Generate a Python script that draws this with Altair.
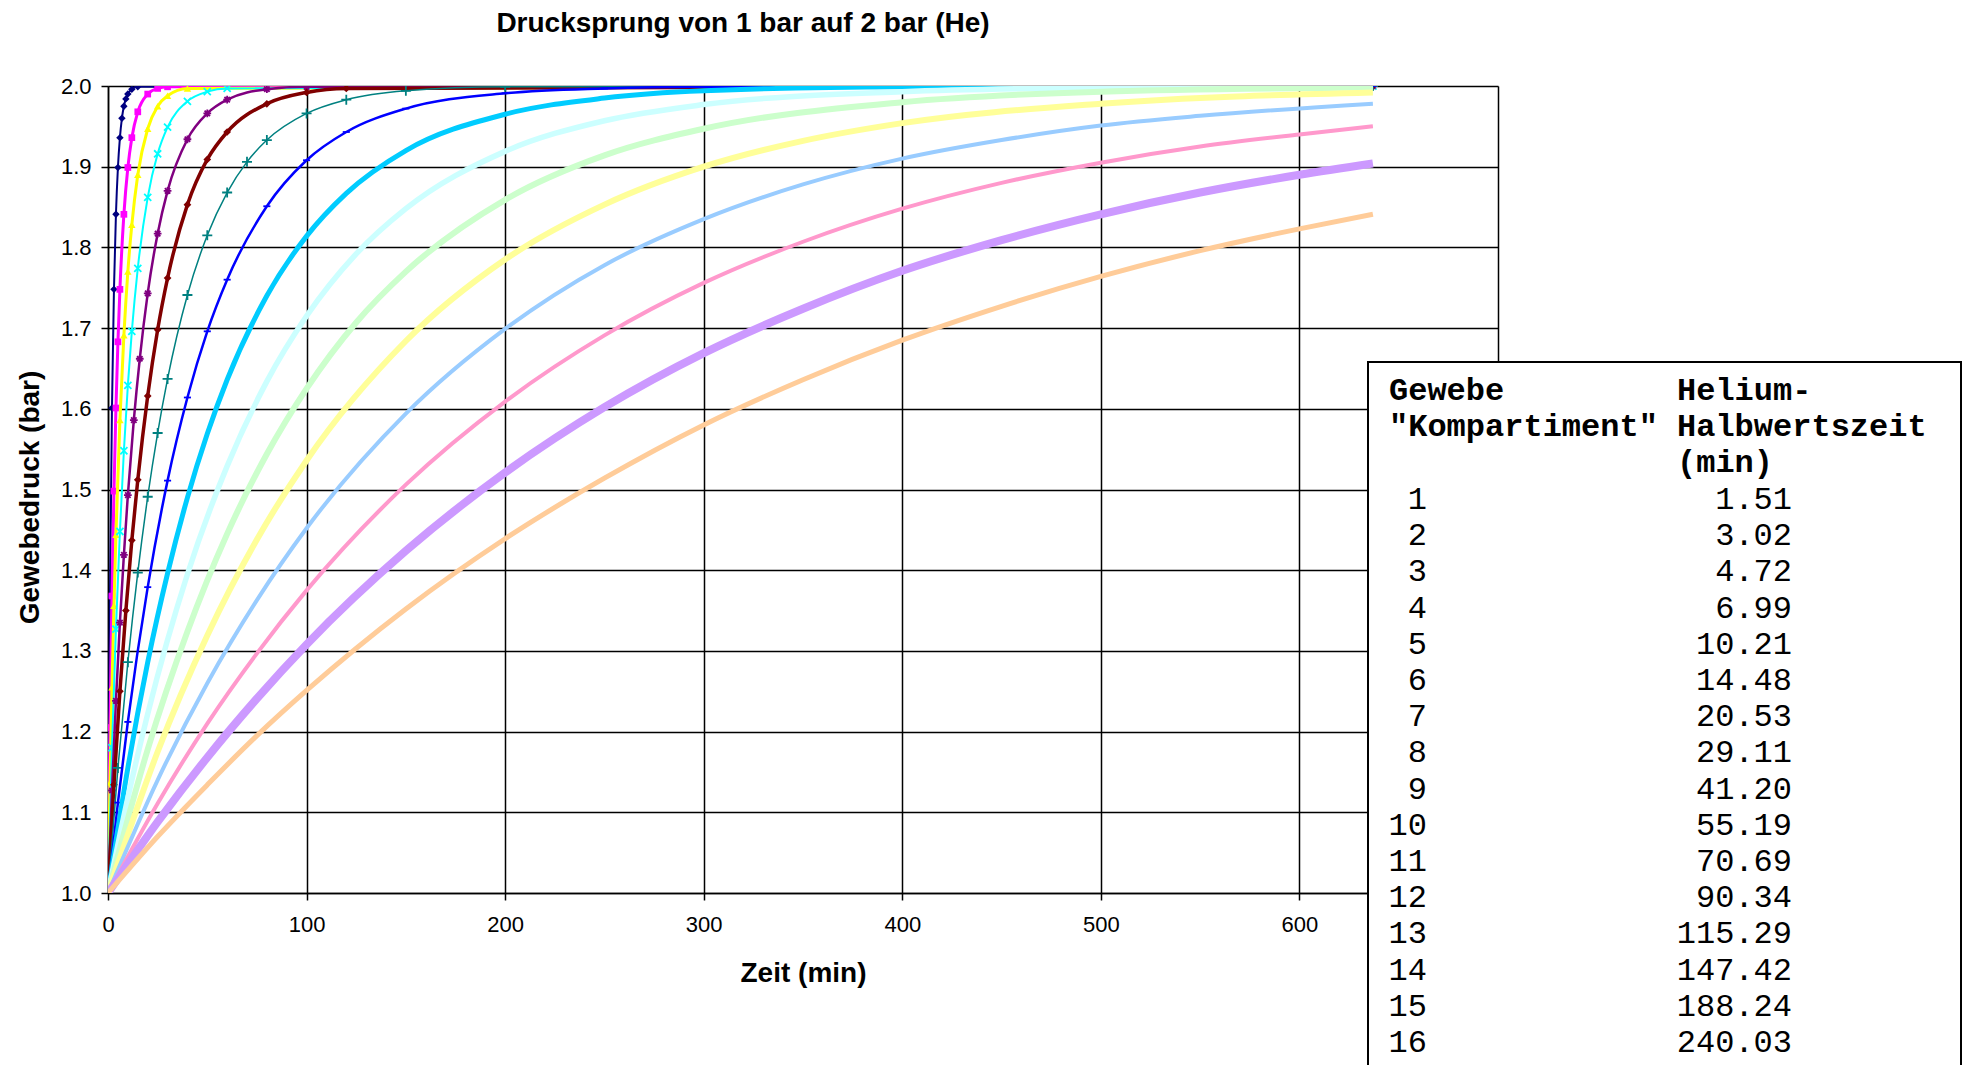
import altair as alt
import pandas as pd

# ---------------- data ----------------
compartments = list(range(1, 17))
half_times = [1.51, 3.02, 4.72, 6.99, 10.21, 14.48, 20.53, 29.11,
              41.20, 55.19, 70.69, 90.34, 115.29, 147.42, 188.24, 240.03]
colors = ["#000080", "#FF00FF", "#FFFF00", "#00FFFF", "#800080", "#800000",
          "#008080", "#0000FF", "#00CCFF", "#CCFFFF", "#CCFFCC", "#FFFF99",
          "#99CCFF", "#FF99CC", "#CC99FF", "#FFCC99"]

# time (min) / tissue pressure (bar)
k01_t = [0, 1, 2, 3, 4, 5, 6, 7, 8, 9, 10, 12, 15, 637]
k01_p = [1.000, 1.368, 1.601, 1.748, 1.841, 1.899, 1.936, 1.960, 1.975, 1.984, 1.990, 1.996, 1.999, 2.000]
k02_t = [0, 1, 2, 3, 4, 5, 6, 8, 10, 12, 15, 20, 25, 30, 637]
k02_p = [1.000, 1.205, 1.368, 1.498, 1.601, 1.683, 1.748, 1.841, 1.899, 1.936, 1.968, 1.990, 1.997, 1.999, 2.000]
k03_t = [0, 1, 2, 3, 4, 6, 8, 10, 12, 15, 20, 25, 30, 40, 637]
k03_p = [1.000, 1.137, 1.255, 1.356, 1.444, 1.586, 1.691, 1.770, 1.828, 1.890, 1.947, 1.975, 1.988, 1.997, 2.000]
k04_t = [0, 2, 4, 6, 8, 10, 12, 15, 20, 25, 30, 40, 50, 60, 637]
k04_p = [1.000, 1.180, 1.327, 1.448, 1.548, 1.629, 1.696, 1.774, 1.862, 1.916, 1.949, 1.981, 1.993, 1.997, 2.000]
k05_t = [0, 2, 4, 6, 8, 10, 13, 16, 20, 25, 30, 40, 50, 60, 80, 100, 637]
k05_p = [1.000, 1.127, 1.238, 1.335, 1.419, 1.493, 1.586, 1.662, 1.743, 1.817, 1.870, 1.934, 1.966, 1.983, 1.996, 1.999, 2.000]
k06_t = [0, 3, 6, 9, 12, 15, 20, 25, 30, 40, 50, 60, 80, 100, 120, 637]
k06_p = [1.000, 1.134, 1.250, 1.350, 1.437, 1.512, 1.616, 1.698, 1.762, 1.853, 1.909, 1.943, 1.978, 1.992, 1.997, 2.000]
k07_t = [0, 5, 10, 15, 20, 25, 30, 40, 50, 60, 70, 80, 100, 120, 150, 200, 637]
k07_p = [1.000, 1.155, 1.286, 1.397, 1.491, 1.570, 1.637, 1.741, 1.815, 1.868, 1.906, 1.933, 1.966, 1.983, 1.994, 1.999, 2.000]
k08_t = [0, 5, 10, 20, 30, 40, 50, 60, 80, 100, 120, 150, 200, 250, 300, 637]
k08_p = [1.000, 1.112, 1.212, 1.379, 1.511, 1.614, 1.696, 1.760, 1.851, 1.908, 1.943, 1.972, 1.991, 1.997, 1.999, 2.000]
k09_t = [0, 10, 20, 30, 40, 50, 60, 80, 100, 120, 150, 200, 250, 300, 400, 637]
k09_p = [1.000, 1.155, 1.286, 1.396, 1.490, 1.569, 1.636, 1.740, 1.814, 1.867, 1.920, 1.965, 1.985, 1.994, 1.999, 2.000]
k10_t = [0, 10, 20, 40, 60, 80, 100, 125, 150, 200, 250, 300, 400, 500, 637]
k10_p = [1.000, 1.118, 1.222, 1.395, 1.529, 1.634, 1.715, 1.792, 1.848, 1.919, 1.957, 1.977, 1.993, 1.998, 2.000]
k11_t = [0, 20, 40, 60, 80, 100, 125, 150, 200, 250, 300, 400, 500, 637]
k11_p = [1.000, 1.178, 1.324, 1.445, 1.544, 1.625, 1.707, 1.770, 1.859, 1.914, 1.947, 1.980, 1.993, 1.998]
k12_t = [0, 25, 50, 75, 100, 150, 200, 250, 300, 350, 400, 500, 637]
k12_p = [1.000, 1.175, 1.319, 1.438, 1.536, 1.684, 1.785, 1.853, 1.900, 1.932, 1.954, 1.978, 1.992]
k13_t = [0, 25, 50, 75, 100, 150, 200, 250, 300, 350, 400, 450, 500, 550, 637]
k13_p = [1.000, 1.140, 1.260, 1.363, 1.452, 1.594, 1.699, 1.778, 1.835, 1.878, 1.910, 1.933, 1.951, 1.963, 1.978]
k14_t = [0, 25, 50, 75, 100, 150, 200, 250, 300, 350, 400, 450, 500, 550, 600, 637]
k14_p = [1.000, 1.111, 1.210, 1.297, 1.375, 1.506, 1.609, 1.691, 1.756, 1.807, 1.848, 1.880, 1.905, 1.925, 1.940, 1.950]
k15_t = [0, 25, 50, 75, 100, 150, 200, 250, 300, 350, 400, 450, 500, 550, 600, 637]
k15_p = [1.000, 1.088, 1.168, 1.241, 1.308, 1.424, 1.521, 1.602, 1.669, 1.724, 1.771, 1.809, 1.841, 1.868, 1.890, 1.904]
k16_t = [0, 25, 50, 75, 100, 150, 200, 250, 300, 350, 400, 450, 500, 550, 600, 637]
k16_p = [1.000, 1.070, 1.134, 1.195, 1.251, 1.352, 1.439, 1.514, 1.580, 1.636, 1.685, 1.727, 1.764, 1.796, 1.823, 1.841]

x_ticks = [0, 100, 200, 300, 400, 500, 600, 700]
y_ticks = [1.0, 1.1, 1.2, 1.3, 1.4, 1.5, 1.6, 1.7, 1.8, 1.9, 2.0]

series_t = [k01_t, k02_t, k03_t, k04_t, k05_t, k06_t, k07_t, k08_t,
            k09_t, k10_t, k11_t, k12_t, k13_t, k14_t, k15_t, k16_t]
series_p = [k01_p, k02_p, k03_p, k04_p, k05_p, k06_p, k07_p, k08_p,
            k09_p, k10_p, k11_p, k12_p, k13_p, k14_p, k15_p, k16_p]

# ---------------- styles ----------------
line_widths = [2, 3, 3, 2, 2.5, 3.5, 1.5, 2.5, 5, 5.5, 6, 6, 4, 4, 8, 5]
marker_shapes = ["diamond", "square", "triangle-up",
                 "M-1,-1L1,1M-1,1L1,-1",
                 "M-1,0L1,0M0,-1L0,1M-0.7,-0.7L0.7,0.7M-0.7,0.7L0.7,-0.7",
                 "diamond", "M-1,0L1,0M0,-1L0,1", "M-1,0L1,0"]
marker_filled = [True, True, True, False, False, True, False, False]
marker_sizes = [55, 45, 55, 50, 60, 60, 100, 50]

FONT = "Liberation Sans"
MONO = "Liberation Mono"

x_scale = alt.Scale(domain=[0, 700], nice=False, zero=False)
y_scale = alt.Scale(domain=[1.0, 2.0], nice=False, zero=False)
common_axis = dict(grid=True, gridColor="#000000", gridWidth=1.5, gridOpacity=1,
                   domainColor="#000000", domainWidth=1.5, tickColor="#000000",
                   tickWidth=1.5, tickSize=7, labelFont=FONT, titleFont=FONT,
                   labelColor="#000000", titleColor="#000000", labelFontSize=22,
                   titleFontSize=28, titleFontWeight="bold", zindex=0,
                   labelFlush=False, titleBaseline="middle")
x_axis = alt.Axis(values=x_ticks, format="d", title="Zeit (min)", labelPadding=14,
                  titleY=80, **common_axis)
y_axis = alt.Axis(values=y_ticks, format=".1f", title="Gewebedruck (bar)", labelPadding=10,
                  titleX=-78, titleY=411, titleAngle=270, **common_axis)

layers = []
for i, (ts, ps) in enumerate(zip(series_t, series_p)):
    df = pd.DataFrame({"t": ts, "p": ps, "Kompartiment": compartments[i]})
    base = alt.Chart(df).encode(
        x=alt.X("t:Q", scale=x_scale, axis=x_axis),
        y=alt.Y("p:Q", scale=y_scale, axis=y_axis),
    )
    layers.append(base.mark_line(color=colors[i], strokeWidth=line_widths[i],
                                 interpolate="monotone", clip=True))
    if i < len(marker_shapes):
        if marker_filled[i]:
            pts = base.mark_point(shape=marker_shapes[i], filled=True, size=marker_sizes[i],
                                  color=colors[i], opacity=1, clip=True)
        else:
            pts = base.mark_point(shape=marker_shapes[i], filled=False, size=marker_sizes[i],
                                  color=colors[i], opacity=1, strokeWidth=1.8, clip=True)
        layers.append(pts)

# ---------------- table box (overlay, as in the reference) ----------------
one = alt.Data(values=[{"k": 1}])
box = alt.Chart(one).mark_rect(fill="white", stroke="black", strokeWidth=2).encode(
    x=alt.value(1260), x2=alt.value(1853), y=alt.value(276), y2=alt.value(1100))

LH = 36.2
head_left = alt.Chart(one).mark_text(
    text=["Gewebe", '"Kompartiment"'], font=MONO, fontSize=32, fontWeight="bold",
    align="left", baseline="alphabetic", lineHeight=LH, color="black"
).encode(x=alt.value(1281), y=alt.value(314))
head_right = alt.Chart(one).mark_text(
    text=["Helium-", "Halbwertszeit", "(min)"], font=MONO, fontSize=32, fontWeight="bold",
    align="left", baseline="alphabetic", lineHeight=LH, color="black"
).encode(x=alt.value(1569), y=alt.value(314))
rows_left = alt.Chart(one).mark_text(
    text=[str(n) for n in compartments], font=MONO, fontSize=32,
    align="right", baseline="alphabetic", lineHeight=LH, color="black"
).encode(x=alt.value(1319), y=alt.value(423))
rows_right = alt.Chart(one).mark_text(
    text=[f"{v:.2f}" for v in half_times], font=MONO, fontSize=32,
    align="right", baseline="alphabetic", lineHeight=LH, color="black"
).encode(x=alt.value(1684), y=alt.value(423))

chart = alt.layer(*layers, box, head_left, head_right, rows_left, rows_right).properties(
    width=1390, height=807,
    padding={"left": 100, "top": 78, "right": 465, "bottom": 172},
    autosize=alt.AutoSizeParams(type="none"),
    title=alt.TitleParams("Drucksprung von 1 bar auf 2 bar (He)", font=FONT, fontSize=28,
                          fontWeight="bold", anchor="middle", frame="group", dx=-60,
                          offset=37, color="black"),
).configure_view(stroke="#000000", strokeWidth=1.5).configure(background="white")

chart.save("out.html", embed_options={"renderer": "svg", "actions": False})
